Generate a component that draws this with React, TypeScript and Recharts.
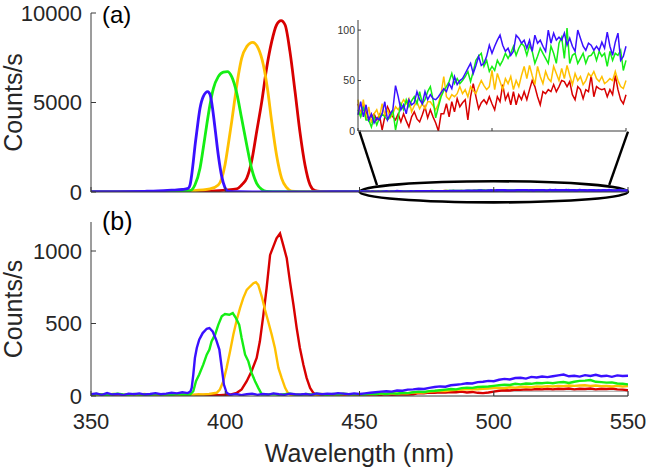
import React from 'react';
import { LineChart, Line, XAxis, YAxis, ReferenceArea, ReferenceLine } from 'recharts';

const FONT = '"Liberation Sans", Arial, Helvetica, sans-serif';
const TXT = '#262626';
const AX = '#3a3a3a';
const C_BLUE = '#3a10ff';
const C_GREEN = '#14ee14';
const C_YELLOW = '#ffc000';
const C_RED = '#d80000';

const X_TICKS = [350, 400, 450, 500, 550];
const A_Y_TICKS = [0, 5000, 10000];
const B_Y_TICKS = [0, 500, 1000];
const INSET_Y_TICKS = [0, 50, 100];
const INSET_X_TICKS = [450, 500, 550];

// Panel (a): main peaks (wavelength nm, counts/s)
const A_BLUE: [number, number][] = [
  [350, 15], [360, 20], [370, 40], [375, 60], [380, 100], [384, 140], [386.2, 200], [386.9, 392], [387.5, 950],
  [388.1, 1700], [388.7, 2540], [389.4, 3370], [390.6, 4675], [391.8, 5326], [393.5, 5606], [394.3, 5457],
  [394.9, 5047], [396.2, 3557], [397.4, 2068], [398.7, 858], [399.9, 243], [401.1, 40], [405, 15], [410, 10],
  [420, 10], [430, 12], [440, 14], [449, 15],
];
const A_GREEN: [number, number][] = [
  [350, 10], [360, 8], [370, 10], [380, 20], [383, 50], [386.9, 80], [388.7, 392], [390.6, 1323], [391.8, 2440],
  [393.1, 3744], [394.3, 4861], [395.6, 5792], [397.4, 6444], [399.3, 6700], [400.8, 6730], [402.4, 6444],
  [404.3, 5513], [406.1, 4116], [408, 2627], [409.8, 1323], [411.7, 485], [413.6, 150], [415.4, 40], [420, 15],
  [430, 10], [440, 12], [449, 15],
];
const A_YELLOW: [number, number][] = [
  [350, 8], [360, 10], [370, 12], [380, 20], [386.9, 60], [394.3, 170], [397.4, 392], [398.7, 764], [399.9, 1510],
  [401.1, 2627], [402.4, 3930], [403.6, 5234], [404.9, 6537], [406.1, 7468], [408, 8120], [410.2, 8362],
  [412.3, 8026], [414.2, 7096], [415.7, 5792], [417.3, 3930], [419.1, 2068], [421, 764], [422.9, 243],
  [424.7, 50], [430, 15], [440, 12], [449, 25],
];
const A_RED: [number, number][] = [
  [350, 10], [360, 12], [370, 8], [380, 15], [390, 30], [394, 50], [400, 100], [404.3, 170], [406.1, 392],
  [408, 764], [409.8, 1700], [411.7, 3370], [413.6, 5047], [415.4, 6909], [417.3, 8399], [419.1, 9330],
  [420.8, 9572], [422.3, 9330], [424.1, 7840], [426, 5606], [427.8, 3370], [429.7, 1510], [431.6, 392],
  [433.4, 80], [435.3, 30], [440, 20], [445, 22],
];

// Inset (450-550 nm, 1 nm step)
const INSET_NM = Array.from({ length: 101 }, (_, i) => 450 + i);
const INSET_BLUE = [
  16, 29, 14, 26, 11, 17, 8, 13, 11, 17, 29, 11, 17, 21, 45, 34, 21, 26, 17, 31, 26, 28, 39, 31, 27, 39, 31, 36, 32, 31,
  34, 38, 42, 39, 47, 42, 54, 46, 50, 52, 57, 62, 67, 57, 65, 74, 65, 67, 74, 85, 77,
  84, 90, 95, 85, 79, 82, 75, 79, 95, 92, 87, 90, 82, 90, 79, 95, 87, 90, 84, 79, 100, 87, 97, 90, 93, 90, 97, 85, 92, 84,
  79, 100, 92, 84, 80, 87, 85, 80, 84, 80, 88, 82, 98, 84, 75, 88, 97, 70, 74, 84,
];
const INSET_GREEN = [
  21, 14, 24, 11, 11, 4, 14, 6, 13, 17, 14, 11, 14, 21, 1, 14, 27, 21, 31, 24, 30, 34, 27, 39, 27, 31, 39, 44, 31, 13,
  24, 34, 40, 44, 49, 57, 47, 52, 47, 50, 54, 59, 49, 59, 70, 74, 77, 64, 70, 59, 64,
  60, 70, 65, 70, 77, 72, 77, 84, 75, 82, 87, 84, 75, 85, 79, 67, 74, 82, 77, 72, 67, 84, 77, 67, 87, 93, 72, 102, 67, 75,
  77, 67, 72, 77, 67, 74, 75, 79, 70, 79, 74, 77, 64, 79, 70, 77, 75, 80, 60, 70,
];
const INSET_YELLOW = [
  31, 14, 31, 11, 24, 8, 17, 21, 13, 27, 16, 21, 13, 17, 24, 21, 26, 31, 27, 32, 19, 25, 29, 22, 27, 22, 29, 29, 25, 21,
  27, 37, 54, 34, 31, 36, 34, 37, 44, 37, 41, 34, 44, 40, 37, 44, 50, 45, 41, 44, 60,
  41, 57, 49, 41, 52, 47, 54, 41, 50, 44, 55, 64, 52, 65, 55, 46, 64, 54, 47, 59, 52, 49, 64, 57, 50, 62, 52, 65, 55, 46,
  57, 50, 54, 46, 50, 57, 54, 59, 52, 49, 54, 47, 49, 52, 50, 59, 50, 44, 42, 50,
];
const INSET_RED = [
  27, 17, 27, 19, 11, 14, 17, 11, 16, 1, 14, 24, 18, 14, 11, 17, 9, 17, 10, 4, 14, 19, 12, 9, 16, 24, 13, 21, 14, 8,
  0, 17, 17, 27, 14, 29, 19, 32, 24, 28, 31, 11, 34, 47, 34, 22, 28, 31, 27, 34, 27,
  21, 34, 29, 46, 31, 37, 26, 39, 26, 36, 31, 39, 31, 41, 50, 44, 34, 26, 39, 37, 41, 39, 46, 39, 44, 50, 49, 44, 49, 36,
  31, 44, 41, 32, 41, 39, 55, 34, 44, 42, 41, 42, 34, 41, 36, 55, 41, 31, 27, 36,
];

// Panel (b)
const B_BLUE: [number, number][] = [
  [350, 12], [352, 18], [354, 8], [356, 20], [358, 10], [360, 14], [362, 6], [364, 16], [366, 12], [368, 18], [370, 10],
  [372, 14], [374, 20], [376, 12], [378, 16], [380, 22], [382, 18], [384, 26], [386, 20], [387, 30], [387.5, 56],
  [388.1, 148], [388.7, 262], [389.4, 331], [390.3, 388], [391.6, 434], [393.1, 464], [394.1, 469], [395.3, 446],
  [396.6, 388], [397.8, 320], [398.7, 194], [399.5, 79], [400.5, 22], [401.8, 8], [404, 14], [406, 6], [408, 12],
  [410, 16], [412, 8], [414, 14], [416, 10], [418, 18], [420, 12], [422, 8], [424, 16], [426, 12], [428, 10], [430, 14],
  [432, 8], [434, 18], [436, 12], [438, 16], [440, 14], [442, 20], [444, 16], [446, 12], [448, 18],
  [450, 14], [452, 18], [454, 22], [456, 26], [458, 30], [460, 33], [462, 30], [464, 38], [466, 36], [468, 44], [470, 46],
  [472, 50], [474, 48], [476, 56], [478, 62], [480, 66], [482, 64], [484, 74], [486, 78], [488, 82], [490, 88], [492, 86],
  [494, 96], [496, 98], [498, 104], [500, 102], [502, 112], [504, 118], [506, 114], [508, 124], [510, 126], [512, 120],
  [514, 132], [516, 128], [518, 134], [520, 130], [522, 136], [524, 142], [526, 148], [528, 136], [530, 140], [532, 134],
  [534, 144], [536, 138], [538, 146], [540, 136], [542, 140], [544, 132], [546, 142], [548, 138], [550, 140],
];
const B_GREEN: [number, number][] = [
  [350, 8], [352, 14], [354, 10], [356, 6], [358, 12], [360, 16], [362, 10], [364, 8], [366, 14], [368, 10], [370, 12],
  [372, 8], [374, 14], [376, 10], [378, 12], [380, 8], [382, 14], [384, 10], [386.9, 10], [388.1, 33], [389.1, 102],
  [390.3, 148], [391.8, 216], [393.1, 285], [394.1, 320], [394.9, 377], [396.2, 423], [397.4, 491], [398.7, 549],
  [399.9, 565], [401.5, 560], [402.8, 572], [404, 537], [405.2, 491], [406.1, 400], [407.4, 285], [408.6, 239],
  [409.8, 159], [411.1, 102], [412.3, 56], [413.6, 12], [416, 10], [418, 14], [420, 8], [422, 12], [424, 16], [426, 10],
  [428, 8], [430, 14], [432, 10], [434, 16], [436, 12], [438, 8], [440, 14], [442, 10], [444, 16], [446, 12], [448, 12],
  [450, 12], [452, 10], [454, 16], [456, 12], [458, 18], [460, 14], [462, 20], [464, 16], [466, 22], [468, 20], [470, 26],
  [472, 30], [474, 28], [476, 34], [478, 36], [480, 40], [482, 44], [484, 48], [486, 46], [488, 54], [490, 58], [492, 56],
  [494, 62], [496, 64], [498, 66], [500, 70], [502, 74], [504, 78], [506, 76], [508, 84], [510, 80], [512, 86], [514, 84],
  [516, 90], [518, 88], [520, 92], [522, 88], [524, 94], [526, 96], [528, 90], [530, 98], [532, 104], [534, 106],
  [536, 110], [538, 98], [540, 96], [542, 92], [544, 94], [546, 86], [548, 84], [550, 80],
];
const B_YELLOW: [number, number][] = [
  [350, 10], [352, 6], [354, 12], [356, 8], [358, 14], [360, 10], [362, 8], [364, 12], [366, 6], [368, 10], [370, 14],
  [372, 8], [374, 12], [376, 10], [378, 6], [380, 12], [382, 8], [384, 10], [386, 12], [388, 8], [390, 12], [391.8, 10],
  [394, 14], [396.8, 22], [398, 45], [399.3, 102], [400.5, 194], [401.8, 308], [403, 423], [404.3, 526], [405.5, 606],
  [406.7, 675], [408, 732], [409.2, 755], [410.5, 778], [411.4, 785], [412.3, 766], [413.6, 686], [414.8, 595],
  [416, 514], [417.3, 423], [418.5, 331], [419.8, 194], [421, 125], [422.3, 56], [423.5, 15], [424.7, 6], [426, 10],
  [428, 8], [430, 12], [432, 6], [434, 10], [436, 14], [438, 8], [440, 12], [442, 10], [444, 14], [446, 8], [448, 12],
  [450, 12], [452, 10], [454, 14], [456, 12], [458, 16], [460, 14], [462, 18], [464, 16], [466, 20], [468, 18], [470, 24],
  [472, 26], [474, 24], [476, 30], [478, 32], [480, 36], [482, 34], [484, 40], [486, 42], [488, 44], [490, 46], [492, 48],
  [494, 46], [496, 50], [498, 52], [500, 54], [502, 56], [504, 54], [506, 60], [508, 58], [510, 62], [512, 64], [514, 60],
  [516, 66], [518, 64], [520, 68], [522, 66], [524, 70], [526, 68], [528, 72], [530, 70], [532, 72], [534, 74], [536, 70],
  [538, 72], [540, 68], [542, 70], [544, 66], [546, 70], [548, 66], [550, 68],
];
const B_RED: [number, number][] = [
  [350, 6], [352, 10], [354, 4], [356, 8], [358, 6], [360, 10], [362, 4], [364, 8], [366, 6], [368, 10], [370, 6],
  [372, 8], [374, 4], [376, 8], [378, 6], [380, 10], [382, 6], [384, 8], [386, 6], [388, 8], [390, 6], [392, 8],
  [394, 6], [396, 8], [398, 6], [401.8, 10], [404.3, 22], [406.1, 45], [408, 102], [409.8, 171], [411.7, 262],
  [412.9, 377], [414.2, 560], [415.4, 743], [416.7, 973], [417.9, 1030], [419.1, 1087], [420.4, 1121], [421.6, 1041],
  [422.9, 950], [424.1, 789], [425.4, 629], [426.6, 469], [427.8, 331], [429.1, 216], [430.3, 125], [431.6, 56],
  [432.8, 22], [434, 6], [436, 8], [438, 6], [440, 10], [442, 6], [444, 8], [446, 10], [448, 6], [450, 8], [452, 10],
  [454, 6], [456, 10], [458, 8], [460, 12], [462, 8], [464, 10], [466, 12], [468, 10], [470, 12], [472, 20], [474, 18],
  [476, 24], [478, 22], [480, 26], [482, 24], [484, 28], [486, 26], [488, 30], [490, 24], [492, 28], [494, 22], [496, 20],
  [498, 24], [500, 30], [502, 36], [504, 40], [506, 38], [508, 44], [510, 42], [512, 46], [514, 44], [516, 48], [518, 46],
  [520, 50], [522, 46], [524, 50], [526, 48], [528, 52], [530, 46], [532, 50], [534, 48], [536, 52], [538, 46], [540, 50],
  [542, 48], [544, 52], [546, 46], [548, 44], [550, 40],
];

const toPts = (pts: [number, number][]) => pts.map(([x, y]) => ({ x, y }));
const withInset = (pts: [number, number][], inset: number[]) => [
  ...toPts(pts),
  ...INSET_NM.map((x, i) => ({ x, y: inset[i] })),
];

const insetData = INSET_NM.map((nm, i) => ({
  nm,
  blue: INSET_BLUE[i],
  green: INSET_GREEN[i],
  yellow: INSET_YELLOW[i],
  red: INSET_RED[i],
}));

const makeYTick = (fs: number, len: number, gap: number, fill: string) => (props: any) => {
  const { x, y, payload } = props;
  return (
    <g>
      <line x1={x} y1={y} x2={x + len} y2={y} stroke={AX} strokeWidth={1} />
      <text x={x - gap} y={y} dy="0.36em" textAnchor="end" fontSize={fs} fill={fill} fontFamily={FONT}>
        {payload.value}
      </text>
    </g>
  );
};

const makeXTick = (len: number, showLabel: boolean) => (props: any) => {
  const { x, y, payload } = props;
  return (
    <g>
      <line x1={x} y1={y} x2={x} y2={y - len} stroke={AX} strokeWidth={1} />
      {showLabel && (
        <text x={x} y={y + 33} textAnchor="middle" fontSize={22} fill={TXT} fontFamily={FONT}>
          {payload.value}
        </text>
      )}
    </g>
  );
};

const yLabel = (props: any) => {
  const vb = props.viewBox;
  const cx = vb.x + 22;
  const cy = vb.y + vb.height / 2;
  return (
    <text x={cx} y={cy} textAnchor="middle" fontSize={25} fill={TXT} fontFamily={FONT} transform={`rotate(-90, ${cx}, ${cy})`}>
      Counts/s
    </text>
  );
};

const xLabel = (props: any) => {
  const vb = props.viewBox;
  return (
    <text x={vb.x + vb.width / 2} y={vb.y + 66} textAnchor="middle" fontSize={25} fill={TXT} fontFamily={FONT}>
      Wavelength (nm)
    </text>
  );
};

const ellipseShape = (props: any) => {
  const { x, y, width, height } = props;
  return (
    <ellipse cx={x + width / 2} cy={y + height / 2} rx={Math.abs(width) / 2} ry={Math.abs(height) / 2} fill="none" stroke="#000" strokeWidth={2.6} />
  );
};

export default function App() {
  return (
    <div style={{ position: 'absolute', left: 0, top: 0, width: 648, height: 472, background: '#fff', fontFamily: FONT }}>
      {/* Panel (b) */}
      <div style={{ position: 'absolute', left: 0, top: 200 }}>
        <LineChart width={648} height={272} margin={{ top: 22, right: 20, bottom: 0, left: 0 }}>
          <XAxis
            dataKey="x"
            type="number"
            domain={[350, 550]}
            ticks={X_TICKS}
            interval={0}
            height={76}
            tickSize={0}
            tickMargin={0}
            tickLine={false}
            tick={makeXTick(5, true)}
            axisLine={{ stroke: AX, strokeWidth: 1 }}
            label={xLabel}
            allowDataOverflow
          />
          <YAxis
            type="number"
            domain={[0, 1200]}
            ticks={B_Y_TICKS}
            interval={0}
            width={91}
            tickSize={0}
            tickMargin={0}
            tickLine={false}
            tick={makeYTick(22, 5, 9, TXT)}
            axisLine={{ stroke: AX, strokeWidth: 1 }}
            label={yLabel}
            allowDataOverflow
          />
          <ReferenceArea x1={500} x2={550} y1={0} y2={33} fill="none" fillOpacity={0} stroke="#9a9a9a" strokeWidth={1} ifOverflow="visible" />
          <Line data={toPts(B_RED)} dataKey="y" type="linear" stroke={C_RED} strokeWidth={2.4} dot={false} isAnimationActive={false} />
          <Line data={toPts(B_YELLOW)} dataKey="y" type="linear" stroke={C_YELLOW} strokeWidth={2.4} dot={false} isAnimationActive={false} />
          <Line data={toPts(B_GREEN)} dataKey="y" type="linear" stroke={C_GREEN} strokeWidth={2.4} dot={false} isAnimationActive={false} />
          <Line data={toPts(B_BLUE)} dataKey="y" type="linear" stroke={C_BLUE} strokeWidth={2.4} dot={false} isAnimationActive={false} />
        </LineChart>
      </div>

      {/* Panel (a) */}
      <div style={{ position: 'absolute', left: 0, top: 0 }}>
        <LineChart width={648} height={212} margin={{ top: 13, right: 20, bottom: 0, left: 0 }}>
          <XAxis
            dataKey="x"
            type="number"
            domain={[350, 550]}
            ticks={X_TICKS}
            interval={0}
            height={20}
            tickSize={0}
            tickMargin={0}
            tickLine={false}
            tick={makeXTick(5, false)}
            axisLine={{ stroke: AX, strokeWidth: 1 }}
            allowDataOverflow
          />
          <YAxis
            type="number"
            domain={[0, 10000]}
            ticks={A_Y_TICKS}
            interval={0}
            width={91}
            tickSize={0}
            tickMargin={0}
            tickLine={false}
            tick={makeYTick(22, 5, 9, TXT)}
            axisLine={{ stroke: AX, strokeWidth: 1 }}
            label={yLabel}
            allowDataOverflow
          />
          <ReferenceArea x1={450} x2={550} y1={-580} y2={600} ifOverflow="visible" shape={ellipseShape} />
          <ReferenceLine segment={[{ x: 450, y: 3370 }, { x: 456.5, y: 390 }]} ifOverflow="visible" stroke="#000" strokeWidth={2.4} />
          <ReferenceLine segment={[{ x: 550, y: 3370 }, { x: 543, y: 390 }]} ifOverflow="visible" stroke="#000" strokeWidth={2.4} />
          <Line data={withInset(A_RED, INSET_RED)} dataKey="y" type="monotone" stroke={C_RED} strokeWidth={2.8} dot={false} isAnimationActive={false} />
          <Line data={withInset(A_YELLOW, INSET_YELLOW)} dataKey="y" type="monotone" stroke={C_YELLOW} strokeWidth={2.8} dot={false} isAnimationActive={false} />
          <Line data={withInset(A_GREEN, INSET_GREEN)} dataKey="y" type="monotone" stroke={C_GREEN} strokeWidth={2.8} dot={false} isAnimationActive={false} />
          <Line data={withInset(A_BLUE, INSET_BLUE)} dataKey="y" type="monotone" stroke={C_BLUE} strokeWidth={2.8} dot={false} isAnimationActive={false} />
        </LineChart>
      </div>

      {/* Inset */}
      <div style={{ position: 'absolute', left: 300, top: 0 }}>
        <LineChart width={348} height={140} data={insetData} margin={{ top: 20, right: 22, bottom: 0, left: 0 }}>
          <XAxis
            dataKey="nm"
            type="number"
            domain={[450, 550]}
            ticks={INSET_X_TICKS}
            interval={0}
            height={9}
            tickSize={0}
            tickMargin={0}
            tickLine={false}
            tick={makeXTick(3, false)}
            axisLine={{ stroke: AX, strokeWidth: 1 }}
          />
          <YAxis
            type="number"
            domain={[0, 110]}
            ticks={INSET_Y_TICKS}
            interval={0}
            width={58}
            tickSize={0}
            tickMargin={0}
            tickLine={false}
            tick={makeYTick(10.5, 3, 3, '#333')}
            axisLine={{ stroke: AX, strokeWidth: 1 }}
            allowDataOverflow
          />
          <Line dataKey="red" type="linear" stroke={C_RED} strokeWidth={1.5} dot={false} isAnimationActive={false} />
          <Line dataKey="yellow" type="linear" stroke={C_YELLOW} strokeWidth={1.5} dot={false} isAnimationActive={false} />
          <Line dataKey="green" type="linear" stroke={C_GREEN} strokeWidth={1.5} dot={false} isAnimationActive={false} />
          <Line dataKey="blue" type="linear" stroke={C_BLUE} strokeWidth={1.5} dot={false} isAnimationActive={false} />
        </LineChart>
      </div>

      {/* Panel letters */}
      <svg width={648} height={472} style={{ position: 'absolute', left: 0, top: 0, pointerEvents: 'none' }}>
        <text x={102} y={23} fontSize={24} fill="#000" fontFamily={FONT}>(a)</text>
        <text x={102} y={230} fontSize={25} fill="#000" fontFamily={FONT}>(b)</text>
      </svg>
    </div>
  );
}
